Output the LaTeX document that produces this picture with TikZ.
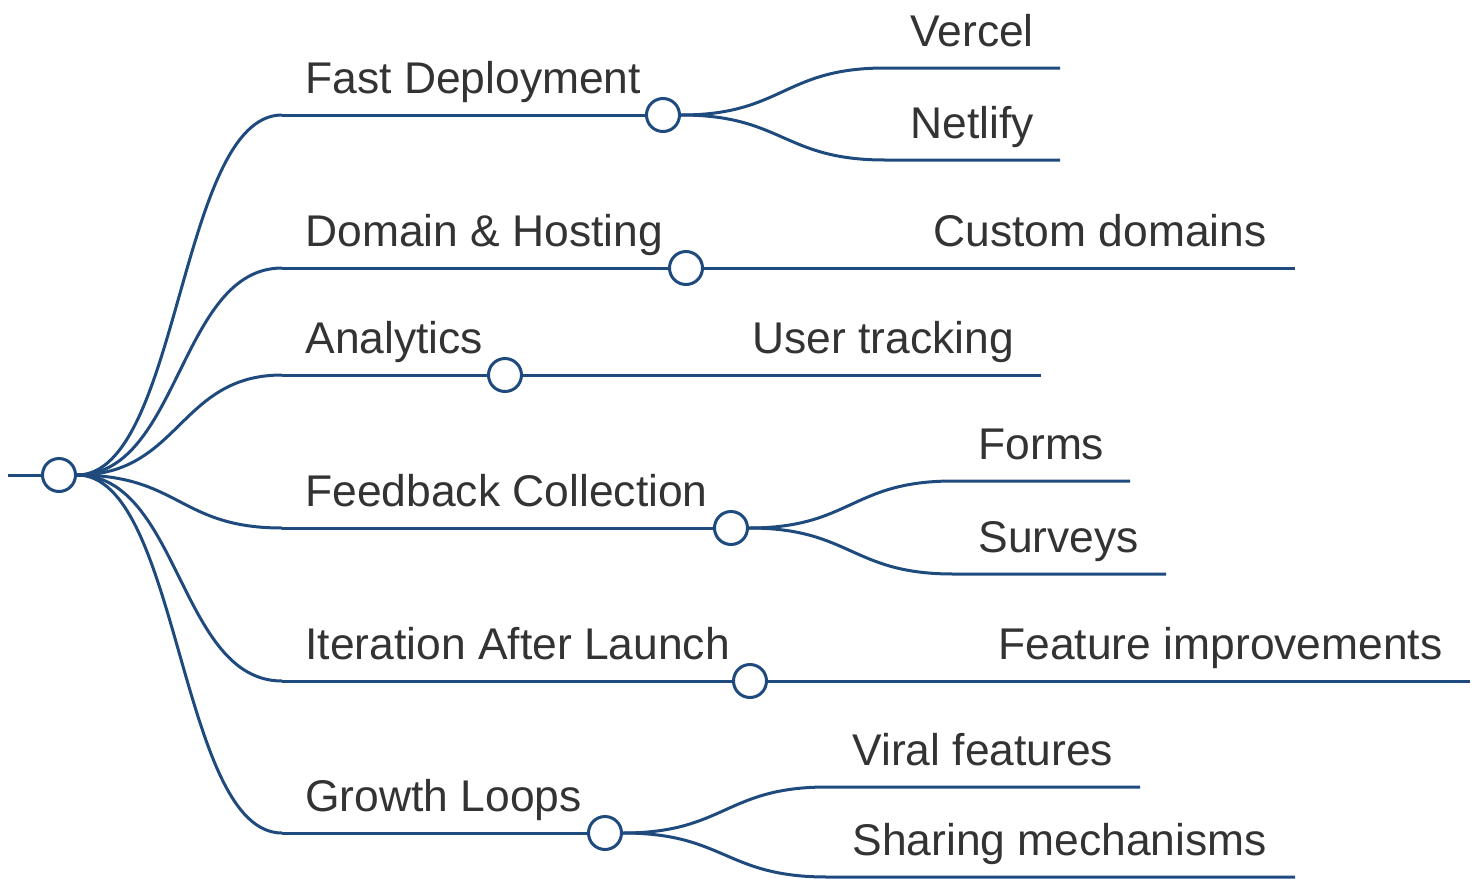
\documentclass[tikz,border=0pt]{standalone}
\usepackage{fontspec}
\setmainfont{Liberation Sans}
\usetikzlibrary{backgrounds}
\definecolor{mmblue}{RGB}{30,74,126}
\definecolor{mmtext}{RGB}{51,51,51}
\tikzset{
  link/.style={draw=mmblue, line width=1.5pt},
  knot/.style={circle, draw=mmblue, fill=white, line width=1.5pt, minimum size=16.5pt, inner sep=0pt},
  lbl/.style={anchor=base west, inner sep=0pt, text=mmtext, font=\fontsize{22.2pt}{26pt}\selectfont},
  bend/.style={to path={.. controls +(#1,0) and +(-#1,0) .. (\tikztotarget)}},
}
\begin{document}
\begin{tikzpicture}[x=0.5pt, y=-0.5pt]
\useasboundingbox (0,0) rectangle (1480,879);

% knots
\coordinate (rootin) at (8,475);
\node[knot] (root) at (59,475) {};
\node[knot] (k1) at (663,115) {};
\node[knot] (k2) at (686,268) {};
\node[knot] (k3) at (505,375) {};
\node[knot] (k4) at (731,528) {};
\node[knot] (k5) at (750,681) {};
\node[knot] (k6) at (605,833) {};

% branch line starts
\coordinate (b1) at (282,115);
\coordinate (b2) at (282,268);
\coordinate (b3) at (282,375);
\coordinate (b4) at (282,528);
\coordinate (b5) at (282,681);
\coordinate (b6) at (282,833);

% leaf line starts and ends
\coordinate (l1s) at (885,68);   \coordinate (l1e) at (1060,68);
\coordinate (l2s) at (885,160);  \coordinate (l2e) at (1060,160);
\coordinate (l3e) at (1295,268);
\coordinate (l4e) at (1041,375);
\coordinate (l5s) at (953,481);  \coordinate (l5e) at (1130,481);
\coordinate (l6s) at (953,574);  \coordinate (l6e) at (1166,574);
\coordinate (l7e) at (1470,681);
\coordinate (l8s) at (827,787);  \coordinate (l8e) at (1140,787);
\coordinate (l9s) at (827,877);  \coordinate (l9e) at (1295,877);

% labels
\node[lbl] (t1) at (305,93) {Fast Deployment};
\node[lbl] (t2) at (305,246) {Domain \& Hosting};
\node[lbl] (t3) at (305,353) {Analytics};
\node[lbl] (t4) at (305,506) {Feedback Collection};
\node[lbl] (t5) at (305,659) {Iteration After Launch};
\node[lbl] (t6) at (305,811) {Growth Loops};
\node[lbl] (u1) at (910,46) {Vercel};
\node[lbl] (u2) at (910,138) {Netlify};
\node[lbl] (u3) at (933,246) {Custom domains};
\node[lbl] (u4) at (752,353) {User tracking};
\node[lbl] (u5) at (978,459) {Forms};
\node[lbl] (u6) at (978,552) {Surveys};
\node[lbl] (u7) at (998,659) {Feature improvements};
\node[lbl] (u8) at (852,765) {Viral features};
\node[lbl] (u9) at (852,855) {Sharing mechanisms};

\begin{pgfonlayer}{background}
  \draw[link] (rootin) -- (root.west);
  % root to branches
  \foreach \b in {b1,b2,b3,b4,b5,b6}
    \draw[link] (root.east) to[bend=103] (\b);
  \draw[link] (b1) -- (k1);
  \draw[link] (b2) -- (k2);
  \draw[link] (b3) -- (k3);
  \draw[link] (b4) -- (k4);
  \draw[link] (b5) -- (k5);
  \draw[link] (b6) -- (k6);
  % branches to leaves
  \draw[link] (k1.east) to[bend=102] (l1s) -- (l1e);
  \draw[link] (k1.east) to[bend=102] (l2s) -- (l2e);
  \draw[link] (k2.east) -- (l3e);
  \draw[link] (k3.east) -- (l4e);
  \draw[link] (k4.east) to[bend=102] (l5s) -- (l5e);
  \draw[link] (k4.east) to[bend=102] (l6s) -- (l6e);
  \draw[link] (k5.east) -- (l7e);
  \draw[link] (k6.east) to[bend=102] (l8s) -- (l8e);
  \draw[link] (k6.east) to[bend=102] (l9s) -- (l9e);
\end{pgfonlayer}
\end{tikzpicture}
\end{document}
